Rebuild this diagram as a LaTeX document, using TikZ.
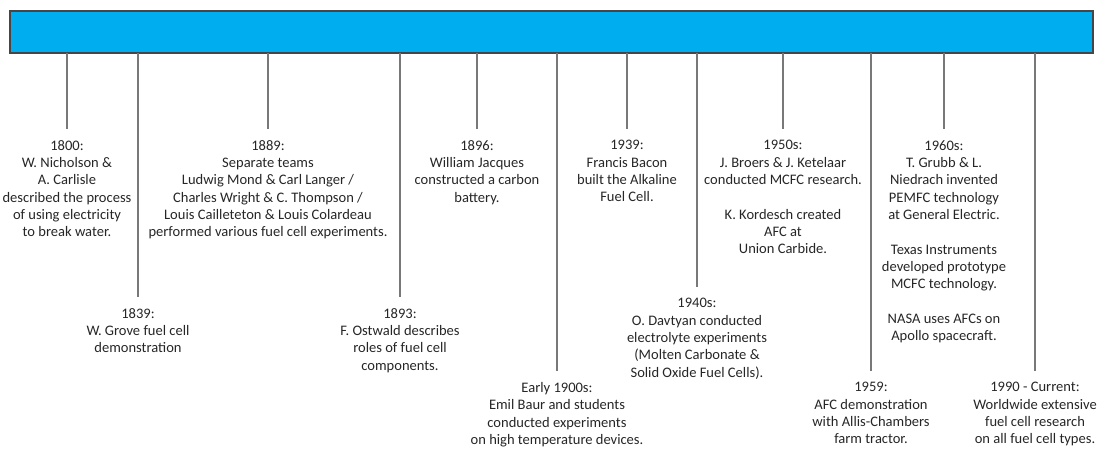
\documentclass[tikz,border=0pt]{standalone}
\usepackage{fontspec}
\setmainfont{Carlito}

\definecolor{barblue}{RGB}{0,174,239}
\definecolor{barline}{RGB}{70,70,70}
\definecolor{tickgrey}{RGB}{120,120,120}
\definecolor{textgrey}{RGB}{38,38,38}

\tikzset{every picture/.style={line width=0.75pt}}
\tikzset{
  event/.style={anchor=north, align=center, text=textgrey, inner xsep=1pt, inner ysep=0pt,
    outer xsep=0pt, outer ysep=8.5pt, font=\fontsize{10.9}{13}\selectfont},
  tick/.style={draw=tickgrey, line width=1.2pt}
}

\begin{document}
\begin{tikzpicture}[x=0.75pt,y=0.75pt,yscale=-1,xscale=1]
\useasboundingbox (0,0) rectangle (1111,451);

%Shape: Rectangle
\node (bar) [draw=barline, fill=barblue, line width=1.1pt, minimum width=812pt, minimum height=31.5pt, inner sep=0pt, outer sep=0pt] at (551.5,32) {};

% Text Node
\node (t1800) [event] at (67,129) {1800:\\W. Nicholson \&\\A. Carlisle\\described the process\\of using electricity\\to break water.};
% Text Node
\node (t1839) [event] at (138,297) {1839:\\W. Grove fuel cell\\demonstration};
% Text Node
\node (t1889) [event] at (268,129) {1889:\\Separate teams\\Ludwig Mond \& Carl Langer /\\Charles Wright \& C. Thompson /\\Louis Cailleteton \& Louis Colardeau\\performed various fuel cell experiments.};
% Text Node
\node (t1893) [event] at (400,297) {1893:\\F. Ostwald describes\\roles of fuel cell\\components.};
% Text Node
\node (t1896) [event] at (477,129) {1896:\\William Jacques\\constructed a carbon\\battery.};
% Text Node
\node (t1900) [event] at (557,371) {Early 1900s:\\Emil Baur and students\\conducted experiments\\on high temperature devices.};
% Text Node
\node (t1939) [event] at (627,129) {1939:\\Francis Bacon\\built the Alkaline\\Fuel Cell.};
% Text Node
\node (t1940) [event] at (697,287) {1940s:\\O. Davtyan conducted\\electrolyte experiments\\(Molten Carbonate \&\\Solid Oxide Fuel Cells).};
% Text Node
\node (t1950) [event] at (783,129) {1950s:\\J. Broers \& J. Ketelaar\\conducted MCFC research.\\[13pt]K. Kordesch created\\AFC at\\Union Carbide.};
% Text Node
\node (t1959) [event] at (871,371) {1959:\\AFC demonstration\\with Allis-Chambers\\farm tractor.};
% Text Node
\node (t1960) [event] at (944,129) {1960s:\\T. Grubb \& L.\\Niedrach invented\\PEMFC technology\\at General Electric.\\[13pt]Texas Instruments\\developed prototype\\MCFC technology.\\[13pt]NASA uses AFCs on\\Apollo spacecraft.};
% Text Node
\node (t1990) [event] at (1035,371) {1990 - Current:\\Worldwide extensive\\fuel cell research\\on all fuel cell types.};

%Straight Lines
\draw [tick] (bar.south -| t1800.north) -- (t1800.north);
\draw [tick] (bar.south -| t1839.north) -- (t1839.north);
\draw [tick] (bar.south -| t1889.north) -- (t1889.north);
\draw [tick] (bar.south -| t1893.north) -- (t1893.north);
\draw [tick] (bar.south -| t1896.north) -- (t1896.north);
\draw [tick] (bar.south -| t1900.north) -- (t1900.north);
\draw [tick] (bar.south -| t1939.north) -- (t1939.north);
\draw [tick] (bar.south -| t1940.north) -- (t1940.north);
\draw [tick] (bar.south -| t1950.north) -- (t1950.north);
\draw [tick] (bar.south -| t1959.north) -- (t1959.north);
\draw [tick] (bar.south -| t1960.north) -- (t1960.north);
\draw [tick] (bar.south -| t1990.north) -- (t1990.north);

\end{tikzpicture}
\end{document}
